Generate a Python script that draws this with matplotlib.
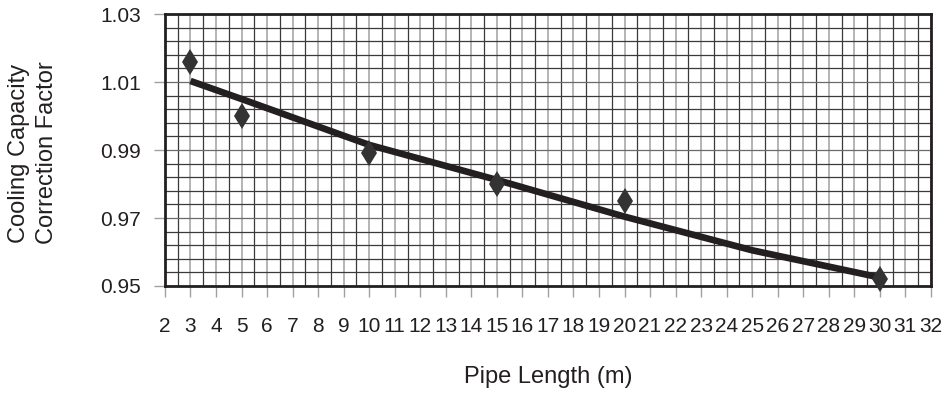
import numpy as np
import matplotlib
matplotlib.use("Agg")
import matplotlib.pyplot as plt
from matplotlib.ticker import FixedLocator

# measured points
pipe_len = [3, 5, 10, 15, 20, 30]
factor = [1.016, 1.000, 0.989, 0.980, 0.975, 0.952]

# trend line
trend_x = [3, 5, 10, 15, 20, 25, 30]
trend_y = [1.0103, 1.0050, 0.9915, 0.9812, 0.9704, 0.9605, 0.9525]

x_ticks = list(range(2, 33))
y_ticks = [0.95, 0.97, 0.99, 1.01, 1.03]

plt.rcParams['font.family'] = ['Liberation Sans', 'DejaVu Sans']

fig = plt.figure(figsize=(9.47, 3.97), dpi=100)
ax = fig.add_axes([0.1742, 0.2796, 0.8088, 0.6851])

ax.set_xlim(2, 32)
ax.set_ylim(0.95, 1.03)
ax.set_xticks(x_ticks)
ax.set_yticks(y_ticks)
ax.set_yticklabels(["%.2f" % v for v in y_ticks])
ax.xaxis.set_minor_locator(FixedLocator(np.arange(2.5, 32, 1.0)))
ax.yaxis.set_minor_locator(FixedLocator(np.linspace(0.95, 1.03, 21)[1:-1]))

# grid: dark lines on the minor steps, grey ones on the labelled x ticks
ax.grid(True, which='minor', axis='both', color='#3a3a3a', lw=0.9)
ax.grid(True, which='major', axis='x', color='#a8a8a8', lw=1.2)
ax.grid(True, which='major', axis='y', color='#6a6a6a', lw=0.9)
ax.set_axisbelow(True)

ax.tick_params(which='major', length=8, width=1, color='#a0a0a0',
               labelsize=15, labelcolor='#231f20')
ax.tick_params(which='minor', length=0)
ax.tick_params(axis='x', pad=14)
ax.tick_params(axis='y', pad=9)

for sp in ax.spines.values():
    sp.set_linewidth(2)
    sp.set_color('#231f20')

ax.plot(trend_x, trend_y, color='#231f20', lw=4.8, solid_capstyle='butt',
        zorder=3)
ax.plot(pipe_len, factor, linestyle='none', marker='d', markersize=13,
        color='#333333', markeredgewidth=0, zorder=4, clip_on=False)

fig.text(548 / 947, 1 - 377 / 397, "Pipe Length (m)", ha='center',
         va='center', fontsize=17, color='#231f20')
fig.text(33 / 947, 1 - 153 / 397, "Cooling Capacity\nCorrection Factor",
         ha='center', va='center', rotation=90, fontsize=17,
         color='#231f20', linespacing=1.4)

fig.savefig("out.png", dpi=100)
